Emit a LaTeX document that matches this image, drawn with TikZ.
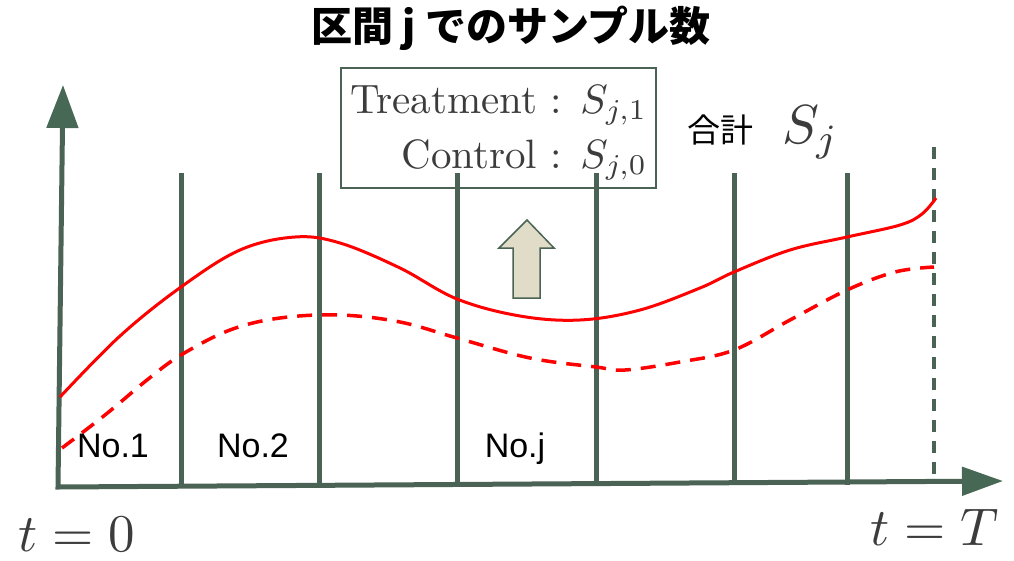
\RequirePackage{fix-cm}
\documentclass[tikz,border=0pt]{standalone}
\usepackage{fontspec}
\newfontfamily\cjk{Noto Sans CJK JP}
\newfontfamily\arial{Liberation Sans}
\usetikzlibrary{arrows.meta}
\definecolor{axisgreen}{RGB}{75,99,85}
\definecolor{tipgreen}{RGB}{72,104,86}
\definecolor{mathgray}{RGB}{60,60,60}
\definecolor{arrowfill}{RGB}{224,220,200}
\tikzset{
  axisline/.style={draw=axisgreen, line width=5pt, line join=miter},
  divider/.style={draw=axisgreen, line width=5pt},
  enddash/.style={draw=axisgreen, line width=4pt, dash pattern=on 12pt off 9pt},
  treat/.style={draw=red, line width=3pt},
  ctrl/.style={draw=red, line width=3.5pt, dash pattern=on 15pt off 10pt},
  infobox/.style={draw=axisgreen, line width=1.5pt, minimum width=315pt, minimum height=120pt},
  boxtext/.style={anchor=base east, inner sep=0pt, text=mathgray, font=\fontsize{10}{12}\selectfont, scale=4.1},
  nolabel/.style={anchor=base, font=\arial\fontsize{34}{40}\selectfont, text=black},
  tlabel/.style={anchor=base, inner sep=0pt, text=mathgray, font=\fontsize{10}{12}\selectfont, scale=5.3},
}
\begin{document}
\begin{tikzpicture}[x=1pt,y=-1pt]
\useasboundingbox (0,0) rectangle (1014,560);
% title
\node (title) at (511,28) {\cjk\bfseries\fontsize{41}{45}\selectfont 区間 j でのサンプル数};
% axes
\coordinate (o) at (58,487);
\coordinate (ytip) at (63,85);
\coordinate (xtip) at (1003,481);
\draw[axisline, {Triangle[length=43pt,width=31pt,fill=tipgreen,color=tipgreen]}-{Triangle[length=41pt,width=28pt,fill=tipgreen,color=tipgreen]}]
  (ytip) -- (o) -- (xtip);
% dividers
\foreach \x [count=\i] in {181,319,457,596,734,847}{
  \coordinate (d\i t) at (\x,173);
  \coordinate (d\i b) at (\x,485);
  \draw[divider] (d\i t) -- (d\i b);
}
\coordinate (et) at (934,147);
\coordinate (eb) at (934,481);
\draw[enddash] (et) -- (eb);
% curves
\draw[treat] plot[smooth, tension=0.6] coordinates {(60,397) (120,336) (181,287) (240,250) (295,237) (340,243) (400,268) (457,299) (520,316) (580,320) (640,310) (700,288) (734,272) (790,250) (847,237) (900,225) (922,214) (936,198)};
\draw[ctrl] plot[smooth, tension=0.6] coordinates {(62,448) (105,415) (147,380) (181,355) (230,330) (280,318) (340,315) (400,322) (457,338) (530,358) (596,367) (625,370) (680,362) (734,350) (790,320) (847,290) (895,272) (934,267)};
% info box
\node[infobox] (box) at (498.5,128) {};
\node[boxtext] (treatment) at (648,113) {Treatment : $S_{j,1}$};
\node[boxtext] (control) at (648,168) {Control : $S_{j,0}$};
% up arrow
\draw[draw=axisgreen, fill=arrowfill, line width=1.5pt, line join=miter]
  (527,220) -- (554,248) -- (540,248) -- (540,298) -- (513,298) -- (513,248) -- (499,248) -- cycle;
% total
\node (goukei) at (720,130) {\cjk\fontsize{33}{38}\selectfont 合計};
\node[anchor=base west, inner sep=0pt, text=mathgray, font=\fontsize{10}{12}\selectfont, scale=5.5] (sj) at (781,143) {$S_j$};
% labels
\node[nolabel] (n1) at (113,457) {No.1};
\node[nolabel] (n2) at (253,457) {No.2};
\node[nolabel] (nj) at (515,457) {No.j};
\node[tlabel] (t0) at (77,551) {$t=0$};
\node[tlabel] (tT) at (935,545) {$t=T$};
\end{tikzpicture}
\end{document}
